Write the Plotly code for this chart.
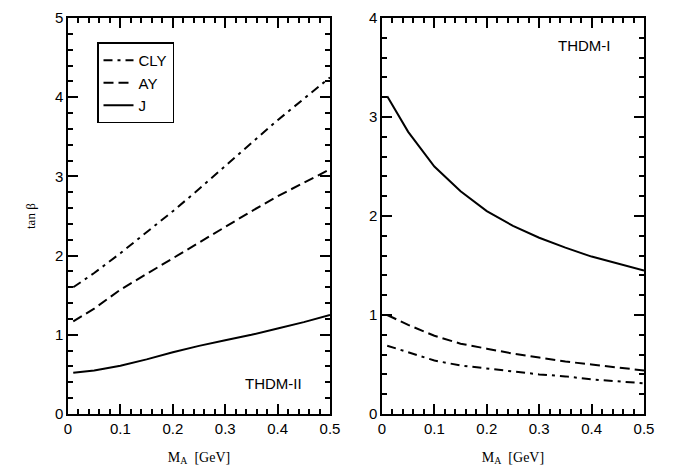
import plotly.graph_objects as go

# ---- data ----
x_ma = [0.01, 0.05, 0.1, 0.15, 0.2, 0.25, 0.3, 0.35, 0.4, 0.45, 0.5]

# THDM-II (left panel)
ii_cly = [1.60, 1.78, 2.03, 2.29, 2.56, 2.84, 3.13, 3.42, 3.71, 3.98, 4.25]
ii_ay = [1.17, 1.33, 1.57, 1.77, 1.97, 2.16, 2.36, 2.56, 2.75, 2.92, 3.09]
ii_j = [0.52, 0.55, 0.61, 0.69, 0.78, 0.86, 0.93, 1.00, 1.08, 1.16, 1.25]

# THDM-I (right panel)
i_j = [3.21, 2.85, 2.50, 2.25, 2.05, 1.90, 1.78, 1.68, 1.59, 1.52, 1.45]
i_ay = [1.00, 0.90, 0.79, 0.71, 0.66, 0.61, 0.57, 0.53, 0.50, 0.47, 0.44]
i_cly = [0.69, 0.62, 0.54, 0.49, 0.46, 0.43, 0.40, 0.38, 0.35, 0.33, 0.31]

names = ["CLY", "AY", "J"]
dashes = ["9px,5px,3px,5px", "10px,5px", "solid"]

fig = go.Figure()
for name, ys, d in zip(names, [ii_cly, ii_ay, ii_j], dashes):
    fig.add_trace(go.Scatter(x=x_ma, y=ys, mode="lines", name=name,
                             line=dict(color="black", width=2, dash=d),
                             xaxis="x", yaxis="y", showlegend=True))
for name, ys, d in zip(names, [i_cly, i_ay, i_j], dashes):
    fig.add_trace(go.Scatter(x=x_ma, y=ys, mode="lines", name=name,
                             line=dict(color="black", width=2, dash=d),
                             xaxis="x2", yaxis="y2", showlegend=False))

sans = "Liberation Sans, Arial, sans-serif"
serif = "Liberation Serif, Times New Roman, serif"
tickfont = dict(family=sans, size=15, color="black")
titlefont = dict(family=serif, size=14, color="black")

common_x = dict(range=[0, 0.5], dtick=0.1, showline=True, linecolor="black",
                linewidth=1.5, mirror="ticks", ticks="inside", ticklen=10, tickwidth=2,
                tickcolor="black", showgrid=False, zeroline=False, tickfont=tickfont,
                minor=dict(ticks="inside", dtick=0.02, ticklen=5),
                title=dict(text="M<sub>A</sub>  [GeV]", font=titlefont, standoff=16))
common_y = dict(showline=True, linecolor="black", linewidth=1.5, mirror="ticks",
                ticks="inside", ticklen=10, tickwidth=2, tickcolor="black",
                showgrid=False, zeroline=False, tickfont=tickfont, dtick=1,
                minor=dict(ticks="inside", dtick=0.2, ticklen=5))

fig.update_layout(
    width=680, height=474,
    margin=dict(l=68, r=36, t=9, b=60),
    paper_bgcolor="white", plot_bgcolor="white",
    xaxis=dict(domain=[0, 0.4549], anchor="y", **common_x),
    yaxis=dict(domain=[0, 1], anchor="x", range=[0, 5], **common_y),
    xaxis2=dict(domain=[0.5451, 1], anchor="y2", **common_x),
    yaxis2=dict(domain=[0, 1], anchor="x2", range=[0, 4], **common_y),
    legend=dict(x=(97 - 68) / 576, y=(414 - 34) / 405, xanchor="left", yanchor="top",
                bgcolor="white", bordercolor="black", borderwidth=1.5,
                font=dict(family=sans, size=15, color="black")),
    annotations=[
        dict(text="tan β", xref="paper", yref="paper", x=(30 - 68) / 576, y=0.5,
             textangle=-90, showarrow=False, xanchor="center", yanchor="middle",
             font=dict(family=serif, size=13, color="black")),
        dict(text="THDM-II", xref="x domain", yref="y domain", x=0.786, y=0.078, showarrow=False,
             xanchor="center", yanchor="middle",
             font=dict(family=sans, size=15, color="black")),
        dict(text="THDM-I", xref="x2 domain", yref="y2 domain", x=0.774, y=0.93, showarrow=False,
             xanchor="center", yanchor="middle",
             font=dict(family=sans, size=15, color="black")),
    ],
)

fig.write_html("out.html")
